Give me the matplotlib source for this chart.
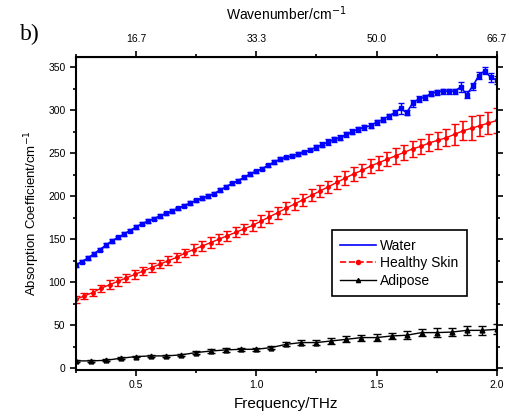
import numpy as np
import matplotlib
matplotlib.use("Agg")
import matplotlib.pyplot as plt
from matplotlib.ticker import MultipleLocator
from matplotlib.lines import Line2D

plt.rcParams['font.family'] = ['Liberation Sans', 'DejaVu Sans']

# water (blue)
water_f = np.round(np.arange(0.25, 2.0001, 0.025), 3)
water_a = [120, 124, 128, 133, 138, 143, 148, 152, 156, 160, 164, 168, 171, 174, 177,
           180, 183, 186, 189, 192, 195, 198, 200, 203, 207, 211, 215, 218, 222, 226,
           229, 232, 236, 240, 243, 245, 247, 249, 251, 254, 257, 260, 263, 266, 268,
           272, 275, 278, 280, 282, 286, 289, 293, 297, 302, 297, 308, 313, 315, 319,
           321, 322, 322, 322, 327, 318, 328, 340, 346, 338, 335]
water_e = [2, 2, 2, 2, 2, 2, 2, 2, 2, 2, 2, 2, 2, 2, 2,
           2, 2, 2, 2, 2, 2, 2, 2, 2, 2, 2, 2, 2, 2, 2,
           2, 2, 2, 2, 2, 2, 2, 2, 2, 2, 3, 3, 3, 3, 3,
           3, 3, 3, 3, 3, 3, 3, 3, 3, 6, 3, 4, 3, 3, 3,
           3, 3, 3, 3, 6, 4, 4, 4, 4, 5, 5]

# healthy skin (red)
skin_f = np.round(np.arange(0.25, 2.0001, 0.035), 3)
skin_a = [80, 84, 88, 93, 97, 101, 105, 109, 113, 117, 121, 125, 129, 134, 138,
          142, 146, 150, 154, 158, 162, 166, 171, 176, 181, 186, 191, 196, 201, 206,
          211, 216, 221, 226, 230, 235, 239, 243, 247, 251, 255, 258, 262, 265, 268,
          272, 276, 279, 282, 285, 288]
skin_e = [4, 4, 4, 4, 5, 5, 5, 5, 5, 5, 5, 5, 5, 5, 6,
          6, 6, 6, 6, 6, 6, 6, 7, 7, 7, 7, 7, 7, 7, 7,
          7, 8, 8, 8, 8, 8, 8, 8, 9, 9, 9, 9, 10, 10, 10,
          12, 11, 14, 12, 13, 14]

# adipose (black)
adip_f = np.linspace(0.25, 2.0, 29)
adip_a = [8.5, 8.5, 9.2, 11.6, 13.5, 14.3, 14.3, 15.5, 18.2, 20, 21.3, 22, 22, 24, 27.8,
          29.8, 29.8, 31.7, 33.6, 35.6, 35.6, 37.5, 38.3, 41.4, 41.4, 42, 44, 44, 45.2]
adip_e = [1, 1, 1, 1, 1, 1, 1, 1, 1.5, 2, 2, 2, 2, 2, 2.5,
          2.5, 3, 3, 3.5, 3.5, 4, 4, 4.5, 4.5, 5, 5, 5.5, 5.5, 6]

fig = plt.figure(figsize=(5.09, 4.18), dpi=100)
ax = fig.add_axes([0.149, 0.115, 0.827, 0.749])

ax.errorbar(water_f, water_a, yerr=water_e, color='blue', marker='s', ms=2.5,
            lw=1.2, capsize=2.5, elinewidth=1)
ax.errorbar(skin_f, skin_a, yerr=skin_e, color='red', marker='o', ms=2.5,
            lw=1, capsize=3, elinewidth=1.2)
ax.errorbar(adip_f, adip_a, yerr=adip_e, color='black', marker='^', ms=3.5,
            lw=1, capsize=3, elinewidth=1)

ax.set_xlim(0.25, 2.0)
ax.set_ylim(-2, 362)
ax.xaxis.set_major_locator(MultipleLocator(0.5))
ax.xaxis.set_minor_locator(MultipleLocator(0.25))
ax.yaxis.set_major_locator(MultipleLocator(50))
ax.yaxis.set_minor_locator(MultipleLocator(25))
ax.tick_params(which='both', direction='out', labelsize=7.5, right=True, width=1.2)
ax.tick_params(which='major', length=4)
ax.tick_params(which='minor', length=2.5)
for s in ax.spines.values():
    s.set_linewidth(1.5)

ax.set_xlabel('Frequency/THz', fontsize=11, labelpad=5)
ax.set_ylabel('Absorption Coefficient/cm$^{-1}$', fontsize=9.5)

top = ax.secondary_xaxis('top', functions=(lambda f: f * 100 / 3, lambda w: w * 3 / 100))
top.set_xticks([16.6667, 33.3333, 50.0, 66.666])
top.set_xticklabels(['16.7', '33.3', '50.0', '66.7'])
top.xaxis.set_minor_locator(MultipleLocator(100 / 12))
top.tick_params(which='both', direction='out', labelsize=7.5, width=1.2)
top.tick_params(which='major', length=4, pad=5)
top.tick_params(which='minor', length=2.5)
top.set_xlabel('Wavenumber/cm$^{-1}$', fontsize=10, labelpad=10)

handles = [Line2D([], [], color='blue', lw=1.2),
           Line2D([], [], color='red', lw=1.2, ls='--', marker='o', ms=3),
           Line2D([], [], color='black', lw=1, marker='^', ms=3)]
leg = ax.legend(handles, ['Water', 'Healthy Skin', 'Adipose'],
                loc='lower left', bbox_to_anchor=(0.608, 0.236), borderaxespad=0,
                fontsize=10, fancybox=False, edgecolor='black', framealpha=1,
                handlelength=2.6, handletextpad=0.3, labelspacing=0.25,
                borderpad=0.6)
leg.get_frame().set_linewidth(1.2)

fig.text(0.04, 0.905, 'b)', fontsize=17, family='Liberation Serif')

fig.savefig('out.png', dpi=100)
